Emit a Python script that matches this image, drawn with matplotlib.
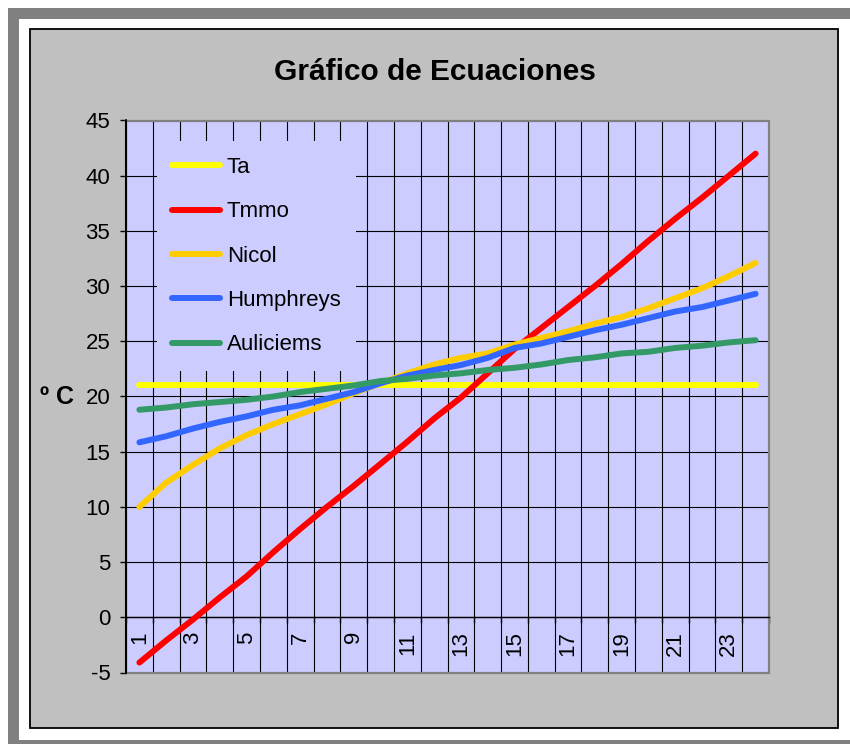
import numpy as np
import matplotlib
matplotlib.use("Agg")
import matplotlib.pyplot as plt
from matplotlib.patches import Rectangle

plt.rcParams['font.family'] = ['Liberation Sans', 'DejaVu Sans']
plt.rcParams['axes.unicode_minus'] = False

# data
hours = list(range(1, 25))
ta = [21.0] * 24
tmmo = [-4.1, -2.1, -0.2, 1.8, 3.7, 5.9, 8.0, 10.0, 11.9, 13.9, 15.9, 18.0,
        19.9, 22.1, 24.3, 26.2, 28.1, 30.0, 32.0, 34.1, 36.1, 38.0, 40.0, 42.0]
nicol = [10.0, 12.2, 13.8, 15.3, 16.5, 17.5, 18.4, 19.3, 20.3, 21.2, 22.1, 22.9,
         23.5, 23.9, 24.7, 25.3, 25.9, 26.6, 27.2, 28.0, 28.9, 29.8, 30.9, 32.1]
humphreys = [15.85, 16.4, 17.1, 17.7, 18.2, 18.8, 19.2, 19.8, 20.4, 21.2, 21.9, 22.4,
             22.85, 23.5, 24.4, 24.8, 25.4, 26.0, 26.5, 27.1, 27.7, 28.1, 28.7, 29.3]
auliciems = [18.8, 19.0, 19.3, 19.5, 19.7, 20.0, 20.4, 20.7, 21.0, 21.4, 21.6, 21.9,
             22.1, 22.4, 22.6, 22.9, 23.3, 23.55, 23.9, 24.05, 24.4, 24.6, 24.9, 25.1]

series = [("Ta", ta, "#FFFF00"),
          ("Tmmo", tmmo, "#FF0000"),
          ("Nicol", nicol, "#FFCC00"),
          ("Humphreys", humphreys, "#3366FF"),
          ("Auliciems", auliciems, "#339966")]

W, H = 850, 744
fig = plt.figure(figsize=(W / 100, H / 100), dpi=100)
fig.patch.set_facecolor("white")


def frame_rect(x0, y0, x1, y1, **kw):
    # rectangle given in pixel coords (top-left origin)
    r = Rectangle((x0 / W, 1 - y1 / H), (x1 - x0) / W, (y1 - y0) / H,
                  transform=fig.transFigure, zorder=-10, **kw)
    fig.patches.append(r)


# outer borders like the Excel sheet screenshot
frame_rect(8, 8, 900, 800, facecolor="#808080", edgecolor="none")
frame_rect(19, 19, 900, 740, facecolor="white", edgecolor="none")
frame_rect(29.5, 29, 837.5, 727.5, facecolor="#C0C0C0", edgecolor="black", linewidth=1.3)

ax = fig.add_axes([126 / W, (H - 672.5) / H, 643 / W, 552 / H])
ax.set_zorder(5)
ax.set_facecolor("#CCCCFF")

for name, vals, col in series:
    ax.plot(hours, vals, color=col, lw=4.3, solid_capstyle="round",
            label=name, zorder=3)

ax.set_xlim(0.5, 24.5)
ax.set_ylim(-5, 45)
ax.set_yticks(np.arange(-5, 50, 5))

ax.set_xticks(hours)
ax.set_xticklabels([str(h) if h % 2 == 1 else "" for h in hours])
ax.set_xticks(np.arange(0.5, 25, 1), minor=True)
ax.tick_params(axis="x", which="major", length=0, pad=10, labelsize=16,
               labelrotation=90)
ax.tick_params(axis="x", which="minor", length=4.3, width=1, color="black",
               direction="out")
ax.tick_params(axis="y", length=4.3, width=1, color="black", pad=7, labelsize=16)
for lab in ax.get_xticklabels():
    lab.set_va("top")
    lab.set_ha("center")

ax.grid(which="minor", axis="x", color="black", lw=0.8, zorder=1)
ax.grid(which="major", axis="y", color="black", lw=0.8, zorder=1)
ax.set_axisbelow(True)

ax.spines["bottom"].set_position(("data", 0))
ax.spines["bottom"].set_color("black")
ax.spines["bottom"].set_linewidth(1)
ax.spines["left"].set_color("black")
ax.spines["left"].set_linewidth(1.2)
for s in ["top", "right"]:
    ax.spines[s].set_visible(False)

# gray plot-area border
ax.add_patch(Rectangle((0, 0), 1, 1, transform=ax.transAxes, fill=False,
                       edgecolor="#808080", lw=1.6, zorder=2, clip_on=False))
ax.plot([0, 0], [0, 1], transform=ax.transAxes, color="black", lw=1.2,
        zorder=2.5, clip_on=False)

leg = ax.legend(loc="upper left", bbox_to_anchor=(0.048, 0.962),
                borderaxespad=0, fontsize=16, frameon=True, fancybox=False,
                facecolor="#CCCCFF", edgecolor="none", framealpha=1,
                handlelength=2.15, handletextpad=0.3, labelspacing=1.05,
                borderpad=0.7)
leg.set_zorder(4)

fig.text(435 / W, 1 - 72 / H, "Gráfico de Ecuaciones", ha="center", va="center",
         fontsize=21.5, fontweight="bold")
fig.text(57 / W, 1 - 397 / H, "º C", ha="center", va="center",
         fontsize=18, fontweight="bold")

plt.savefig("out.png", dpi=100)
